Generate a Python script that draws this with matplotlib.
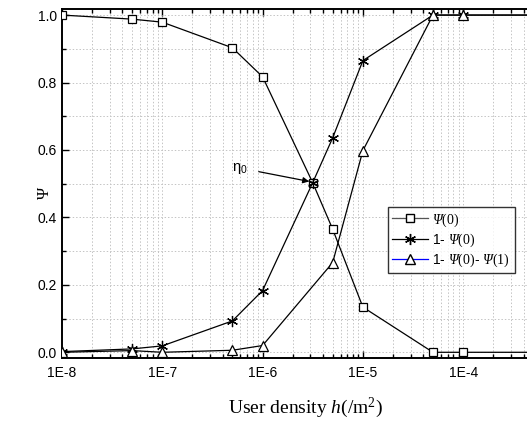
import matplotlib
matplotlib.use('Agg')
import matplotlib.pyplot as plt
from matplotlib.lines import Line2D
from matplotlib.ticker import LogLocator, FixedLocator, MultipleLocator, NullFormatter
import numpy as np

# ----- DATA -----
h = [1e-8, 5e-8, 1e-7, 5e-7, 1e-6, 3.16e-6, 5e-6, 1e-5, 5e-5, 1e-4, 5e-4]
psi0 = [1.0, 0.988, 0.979, 0.903, 0.817, 0.503, 0.365, 0.134, 0.0, 0.0, 0.0]
one_minus_psi0 = [0.002, 0.01, 0.019, 0.093, 0.183, 0.503, 0.636, 0.865, 1.0, 1.0, 1.0]

h_tri = [1e-8, 5e-8, 1e-7, 5e-7, 1e-6, 5e-6, 1e-5, 5e-5, 1e-4, 5e-4]
one_minus_psi01 = [0.0, 0.005, 0.0, 0.006, 0.02, 0.266, 0.598, 1.0, 1.0, 1.0]

xtick_vals = [1e-8, 1e-7, 1e-6, 1e-5, 1e-4]
xtick_labels = ['1E-8', '1E-7', '1E-6', '1E-5', '1E-4']
ytick_vals = [0.0, 0.2, 0.4, 0.6, 0.8, 1.0]

# ----- FONTS -----
plt.rcParams['font.family'] = ['Liberation Sans', 'DejaVu Sans']
plt.rcParams['mathtext.fontset'] = 'custom'
# greek capitals go to the rm slot in mathtext, so make that italic serif
plt.rcParams['mathtext.rm'] = 'Liberation Serif:italic'
plt.rcParams['mathtext.it'] = 'Liberation Serif:italic'
plt.rcParams['mathtext.sf'] = 'Liberation Sans'
plt.rcParams['mathtext.tt'] = 'Liberation Serif'

# ----- FIGURE -----
fig = plt.figure(figsize=(5.27, 4.21), dpi=100)
ax = fig.add_axes([0.1176, 0.1496, 0.9516, 0.829])

lw = 0.9
ax.plot(h, psi0, color='black', lw=lw, marker='s', ms=6, mfc='white', mec='black', mew=0.9, zorder=3)
ax.plot(h, one_minus_psi0, color='black', lw=lw, marker=(6, 2, 0), ms=8, mec='black', mew=0.9, zorder=3)
ax.plot(h_tri, one_minus_psi01, color='black', lw=lw, marker='^', ms=7, mfc='white', mec='black', mew=0.9, zorder=3)

ax.set_xscale('log')
ax.set_xlim(1e-8, 1e-3)
ax.set_ylim(-0.017, 1.018)

ax.xaxis.set_major_locator(FixedLocator(xtick_vals))
ax.set_xticklabels(xtick_labels)
ax.xaxis.set_minor_locator(LogLocator(base=10, subs=np.arange(2, 10)))
ax.xaxis.set_minor_formatter(NullFormatter())
ax.yaxis.set_major_locator(FixedLocator(ytick_vals))
ax.set_yticklabels([f'{v:.1f}' for v in ytick_vals])
ax.yaxis.set_minor_locator(MultipleLocator(0.1))

ax.tick_params(which='both', direction='in', top=True, right=False, labelsize=10, width=1.0)
ax.tick_params(which='major', length=5)
ax.tick_params(which='minor', length=3)
ax.tick_params(axis='x', pad=6)

for s in ax.spines.values():
    s.set_linewidth(1.4)

ax.grid(which='both', color='#c4c4c4', linestyle=(0, (1.5, 2)), linewidth=0.7, zorder=0)
ax.set_axisbelow(True)

# axis labels
fig.text(305 / 527, 1 - 408 / 421, 'User density $\\mathit{h}$(/m$^{\\mathtt{2}}$)',
         family='Liberation Serif', fontsize=14, ha='center', va='center')
fig.text(45 / 527, 1 - 193 / 421, 'Ψ', family='Liberation Serif', fontsize=12,
         rotation=90, ha='center', va='center')

# eta_0 marker
ax.annotate('η$_{\\mathsf{0}}$', xy=(3.1e-6, 0.505), xytext=(240 / 527, 1 - 168 / 421),
            textcoords='figure fraction', fontsize=10.5, ha='center', va='center',
            arrowprops=dict(arrowstyle='-|>', color='black', lw=0.9, mutation_scale=9,
                            shrinkA=6, shrinkB=2))

# ----- LEGEND -----
handles = [
    Line2D([], [], color='#555555', lw=lw, marker='s', ms=6, mfc='white', mec='black'),
    Line2D([], [], color='black', lw=lw, marker=(6, 2, 0), ms=8, mec='black'),
    Line2D([], [], color='blue', lw=lw, marker='^', ms=7, mfc='white', mec='black'),
]
labels = ['$Ψ\\mathtt{(0)}$', '1- $Ψ\\mathtt{(0)}$', '1- $Ψ\\mathtt{(0)}$- $Ψ\\mathtt{(1)}$']
leg = ax.legend(handles, labels, loc='upper left', bbox_to_anchor=(388 / 527, 1 - 207 / 421),
                bbox_transform=fig.transFigure, frameon=True, fancybox=False, fontsize=10,
                handlelength=2.6, borderpad=0.3, labelspacing=0.2, handletextpad=0.3,
                borderaxespad=0)
leg.get_frame().set_edgecolor('black')
leg.get_frame().set_linewidth(1.0)

fig.savefig('out.png', dpi=100)
